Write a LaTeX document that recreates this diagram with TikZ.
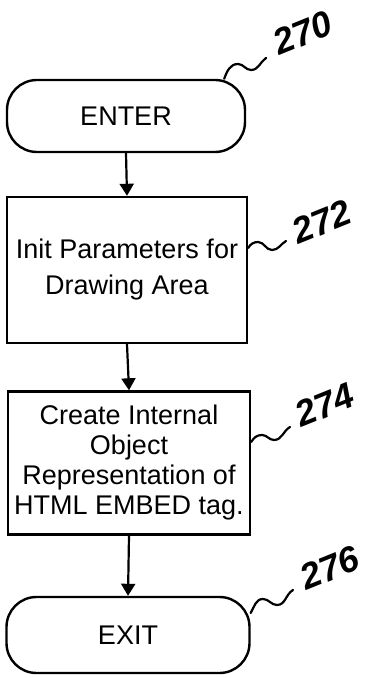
\documentclass[tikz,border=0pt]{standalone}
\usepackage{fontspec}
\setmainfont{Liberation Sans}
\usetikzlibrary{arrows.meta}

\begin{document}
\begin{tikzpicture}[
    x=1pt, y=1pt,
    terminal/.style={rectangle, rounded corners=30pt, draw, line width=2.4pt, minimum width=238pt, minimum height=72pt, font=\fontsize{27}{30}\selectfont},
    process/.style={rectangle, draw, line width=2.4pt, minimum width=240pt, minimum height=146pt, align=center, font=\fontsize{27}{30}\selectfont},
    flow/.style={line width=2.2pt, -{Triangle[length=12pt,width=14pt]}},
    refnum/.style={font=\fontsize{36}{36}\selectfont\bfseries\itshape, rotate=22, inner sep=0pt},
    tilde/.style={line width=2.2pt, line cap=round}
]
    \useasboundingbox (0,0) rectangle (375,678);

    % Flow steps
    \node[terminal] (enter) at (126,562) {ENTER};
    \node[process, font=\fontsize{27}{36}\selectfont] (init) at (127,408) {Init Parameters for\\Drawing Area};
    \node[process, minimum width=242pt, minimum height=143pt] (create) at (129,215) {Create Internal\\Object\\Representation of\\HTML EMBED tag.};
    \node[terminal, minimum width=243pt, minimum height=76pt] (exit) at (128,43) {EXIT};

    \draw[flow] (enter.south) -- (init.north);
    \draw[flow] (init.south) -- (create.north);
    \draw[flow] (create.south) -- (exit.north);

    % Reference numerals
    \node[refnum] (n270) at (303,645) {270};
    \node[refnum] (n272) at (322,456) {272};
    \node[refnum] (n274) at (325,273) {274};
    \node[refnum] (n276) at (330,110) {276};

    \coordinate (e270) at (266,620);
    \coordinate (e272) at (286,437);
    \coordinate (e274) at (290,251);
    \coordinate (e276) at (293,88);

    \draw[tilde] ([xshift=-22pt]enter.north east) to[out=70,in=180] (238,614) to[out=0,in=180] (251,608) to[out=0,in=215] (e270);
    \draw[tilde] ([yshift=22pt]init.east) to[out=60,in=180] (258,436) to[out=0,in=180] (272,428) to[out=0,in=210] (e272);
    \draw[tilde] ([yshift=21pt]create.east) to[out=60,in=180] (262,243) to[out=0,in=180] (274,238) to[out=0,in=210] (e274);
    \draw[tilde] ([yshift=22pt]exit.east) to[out=60,in=180] (263,79) to[out=0,in=180] (277,73) to[out=0,in=210] (e276);
\end{tikzpicture}
\end{document}
